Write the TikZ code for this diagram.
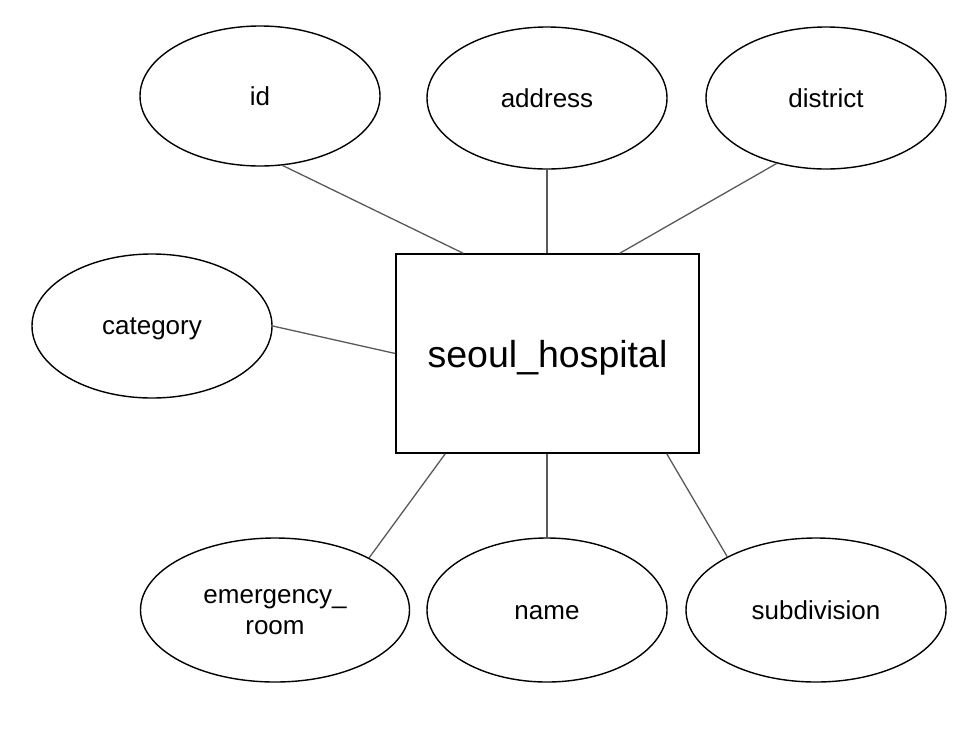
\documentclass[tikz,border=0pt]{standalone}
\usepackage{fontspec}
\setmainfont{Liberation Sans}
\usetikzlibrary{shapes.geometric}
\newcommand{\lowertext}[2]{\raisebox{-#1}[\height][\depth]{#2}}
\begin{document}
\begin{tikzpicture}[x=1pt,y=-1pt,
  attr/.style={ellipse,draw=black,line width=1.4pt,inner sep=0pt,font=\fontsize{26}{31}\selectfont,align=center},
  ent/.style={rectangle,draw=black,line width=1.4pt,inner sep=0pt,minimum width=303pt,minimum height=199pt,font=\fontsize{37.5}{44}\selectfont},
  link/.style={draw=black!65,line width=1.3pt}]
\useasboundingbox (0,0) rectangle (976,729);
\node[ent] (box) at (547.5,353.5) {\lowertext{4pt}{seoul\_hospital}};
\node[attr,minimum width=240pt,minimum height=140pt] (id) at (260,96) {id};
\node[attr,minimum width=240pt,minimum height=142pt] (address) at (547,98) {address};
\node[attr,minimum width=240pt,minimum height=142pt] (district) at (826,98) {district};
\node[attr,minimum width=240pt,minimum height=144pt] (category) at (152,326) {\lowertext{3pt}{category}};
\node[attr,minimum width=269pt,minimum height=144pt] (emerg) at (275,610) {\lowertext{3pt}{\begin{tabular}{@{}c@{}}emergency\_\\room\end{tabular}}};
\node[attr,minimum width=240pt,minimum height=144pt] (name) at (547,610) {\lowertext{3pt}{name}};
\node[attr,minimum width=260pt,minimum height=144pt] (subdiv) at (816,610) {subdivision};
\draw[link] (id.-72) -- ([xshift=68pt]box.north west);
\draw[link] (address.south) -- (address.south |- box.north);
\draw[link] (district.-127) -- ([xshift=-80pt]box.north east);
\draw[link] (category.east) -- (box.west);
\draw[link] (emerg.29) -- ([xshift=50pt]box.south west);
\draw[link] (name.north) -- (name.north |- box.south);
\draw[link] (subdiv.149) -- ([xshift=-33pt]box.south east);
\end{tikzpicture}
\end{document}
